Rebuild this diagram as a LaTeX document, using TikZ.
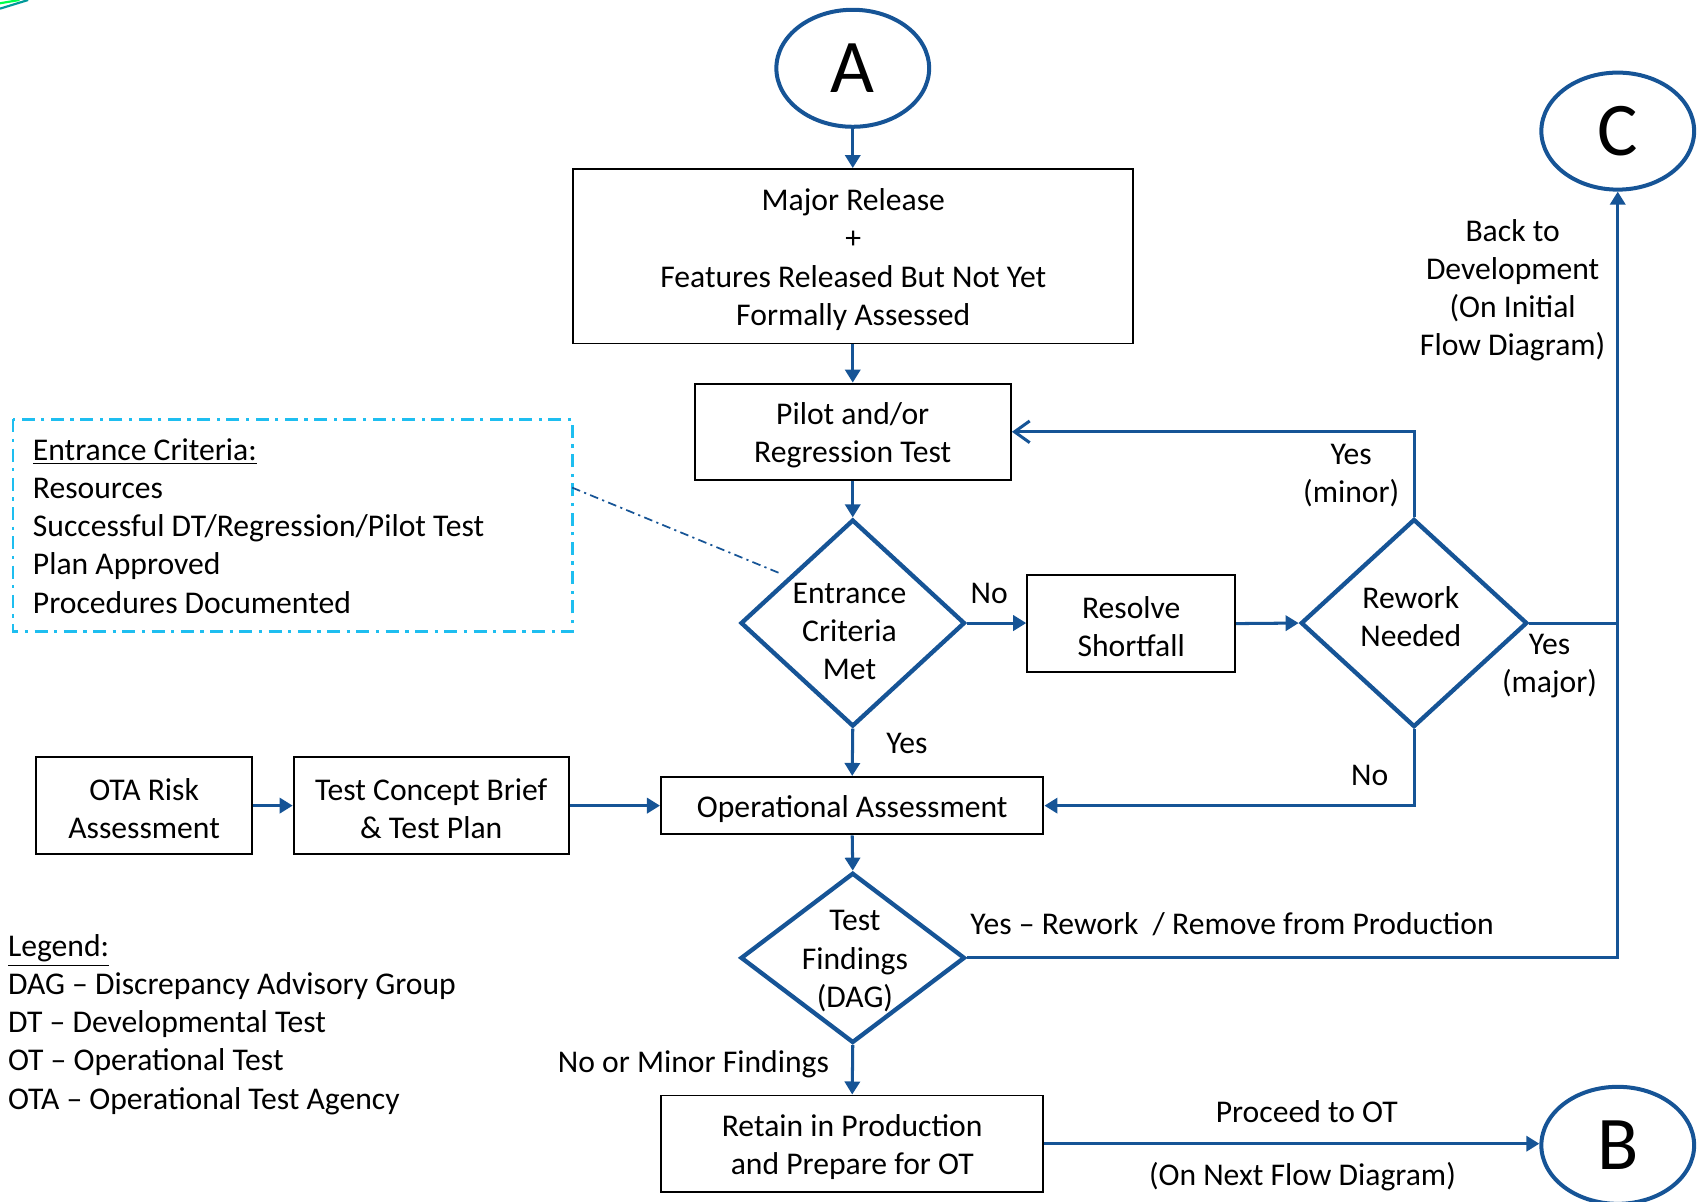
\documentclass[tikz,border=0pt]{standalone}
\usepackage{fontspec}
\setmainfont{Carlito}
\usetikzlibrary{arrows.meta,shapes.geometric}
\definecolor{fblue}{RGB}{22,84,150}
\definecolor{ecyan}{RGB}{30,190,240}
\newcommand{\tstrut}{\rule{0pt}{13.2pt}}
\tikzset{
  txt/.style={font=\fontsize{14.6}{17.6}\selectfont, align=center, inner sep=0pt},
  box/.style={draw=black, line width=0.9pt, rectangle, inner sep=0pt, txt},
  dia/.style={draw=fblue, line width=2pt, diamond, inner sep=0pt},
  term/.style={draw=fblue, line width=1.85pt, ellipse, inner sep=0pt, minimum width=70.5pt, minimum height=54pt, font=\fontsize{35}{40}\selectfont},
  conn/.style={draw=fblue, line width=1.4pt, -{Triangle[length=6pt,width=7pt]}},
  plain/.style={draw=fblue, line width=1.4pt},
  openarr/.style={draw=fblue, line width=1.4pt, -{Straight Barb[length=7pt,width=10pt]}},
}
\begin{document}
\begin{tikzpicture}[x=0.5pt,y=-0.5pt]
\useasboundingbox (0,0) rectangle (1568,1109);
% artifact top-left
\draw[green!70!cyan, line width=1pt] (0,3) -- (18,0);
\draw[teal!80!cyan, line width=1pt] (0,8) -- (26,0);

% terminals
\node[term] (A) at (787,63) {A};
\node[term] (C) at (1493,121) {C};
\node[term] (B) at (1493,1057) {B};

% boxes
\node[box, minimum width=258.5pt, minimum height=80.5pt] (major) at (787.5,236.5)
  {\tstrut Major Release\\+\\Features Released But Not Yet\\Formally Assessed};
\node[box, minimum width=146pt, minimum height=44.5pt] (pilot) at (787,398.5)
  {\tstrut Pilot and/or\\Regression Test};
\node[box, minimum width=96pt, minimum height=44.5pt] (resolve) at (1044,575.5)
  {\tstrut Resolve\\Shortfall};
\node[box, minimum width=176.5pt, minimum height=26.5pt] (oa) at (786.5,743.5)
  {\tstrut Operational Assessment};
\node[box, minimum width=100pt, minimum height=44.5pt] (ota) at (133,743.5)
  {\tstrut OTA Risk\\Assessment};
\node[box, minimum width=127pt, minimum height=44.5pt] (tcb) at (398,743.5)
  {\tstrut Test Concept Brief\\\& Test Plan};
\node[box, minimum width=176.5pt, minimum height=44.5pt] (retain) at (786.5,1055.5)
  {\tstrut Retain in Production\\and Prepare for OT};

% diamonds
\node[dia, minimum width=103.5pt, minimum height=95.5pt] (ec) at (787,575) {};
\node[txt] (ectext) at ([shift={(-3,8)}]ec.center) {Entrance\\Criteria\\Met};
\node[dia, minimum width=104.5pt, minimum height=96pt] (rw) at (1305,575) {};
\node[txt] (rwtext) at ([shift={(-3,-6)}]rw.center) {Rework\\Needed};
\node[dia, minimum width=103.5pt, minimum height=78.5pt] (tf) at (787,884) {};
\node[txt] (tftext) at ([shift={(2,3)}]tf.center) {Test\\Findings\\(DAG)};

% entrance criteria note
\draw[ecyan, line width=1.3pt, dash pattern=on 6pt off 3pt on 1.5pt off 3pt] (12,387) rectangle (528,583);
\node[txt, align=left, anchor=west] (ecnote) at (30,485.5)
  {\underline{Entrance Criteria:}\\Resources\\Successful DT/Regression/Pilot Test\\Plan Approved\\Procedures Documented};
\coordinate (notec) at (528,450);
\coordinate (diac) at (722,530);
\draw[fblue, line width=0.8pt, dash pattern=on 4pt off 2pt on 1pt off 2pt] (notec) -- (diac);

% legend
\node[txt, align=left, anchor=west] (legend) at (7,945.5)
  {\underline{Legend:}\\DAG -- Discrepancy Advisory Group\\DT -- Developmental Test\\OT -- Operational Test\\OTA -- Operational Test Agency};

% connectors
\draw[conn] (A.south) -- (A.south |- major.north);
\draw[conn] (major.south -| pilot.north) -- (pilot.north);
\draw[conn] (pilot.south) -- (ec.north);
\draw[conn] (ec.east) -- (ec.east -| resolve.west);
\draw[conn] (resolve.east) -- (rw.west);
\draw[openarr] (rw.north) |- (pilot.east);
\draw[conn] (rw.east) -| (C.south);
\draw[conn] (ec.south) -- (oa.north);
\draw[conn] (rw.south) |- (oa.east);
\draw[conn] (ota.east) -- (tcb.west);
\draw[conn] (tcb.east) -- (oa.west);
\draw[conn] (oa.south) -- (tf.north);
\draw[plain] (tf.east) -| (C.south |- rw.east);
\draw[conn] (tf.south) -- (retain.north);
\draw[conn] (retain.east) -- (retain.east -| B.west);

% labels
\node[txt] (lno1) at (913,548) {No};
\node[txt] (lyesminor) at (1247,439) {Yes\\(minor)};
\node[txt] (lyesmajor) at (1430,615) {Yes\\(major)};
\node[txt] (lback) at (1396,268) {Back to\\Development\\(On Initial\\Flow Diagram)};
\node[txt] (lyes) at (837,686) {Yes};
\node[txt] (lno2) at (1264,716) {No};
\node[txt] (lrework) at (1137,853) {Yes -- Rework~ / Remove from Production};
\node[txt] (lminor) at (640,982) {No or Minor Findings};
\node[txt] (lproceed) at (1206,1026) {Proceed to OT};
\node[txt] (lnext) at (1202,1086) {(On Next Flow Diagram)};
\end{tikzpicture}
\end{document}
